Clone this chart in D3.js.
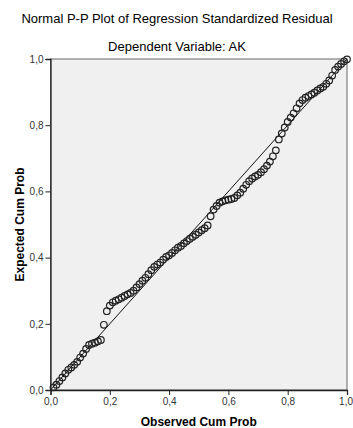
<!DOCTYPE html>
<html>
<head>
<meta charset="utf-8">
<script src="https://cdn.jsdelivr.net/npm/d3@7"></script>
<style>
  body { margin: 0; background: #fff; }
  svg { display: block; font-family: "Liberation Sans", Arial, sans-serif; }
</style>
</head>
<body>
<div id="chart"></div>
<script>
// observed cumulative probability (x) and expected cumulative probability (y)
const observed = [
  0.01, 0.02, 0.03, 0.04, 0.05, 0.06, 0.07, 0.08, 0.09, 0.10,
  0.11, 0.12, 0.13, 0.14, 0.15, 0.16, 0.17, 0.18, 0.19, 0.20,
  0.21, 0.22, 0.23, 0.24, 0.25, 0.26, 0.27, 0.28, 0.29, 0.30,
  0.31, 0.32, 0.33, 0.34, 0.35, 0.36, 0.37, 0.38, 0.39, 0.40,
  0.41, 0.42, 0.43, 0.44, 0.45, 0.46, 0.47, 0.48, 0.49, 0.50,
  0.51, 0.52, 0.53, 0.54, 0.55, 0.56, 0.57, 0.58, 0.59, 0.60,
  0.61, 0.62, 0.63, 0.64, 0.65, 0.66, 0.67, 0.68, 0.69, 0.70,
  0.71, 0.72, 0.73, 0.74, 0.75, 0.76, 0.77, 0.78, 0.79, 0.80,
  0.81, 0.82, 0.83, 0.84, 0.85, 0.86, 0.87, 0.88, 0.89, 0.90,
  0.91, 0.92, 0.93, 0.94, 0.95, 0.96, 0.97, 0.98, 0.99, 1.00
];
const expected = [
  0.008, 0.016, 0.027, 0.038, 0.050, 0.061, 0.068, 0.076, 0.085, 0.098,
  0.110, 0.124, 0.136, 0.140, 0.143, 0.147, 0.151, 0.197, 0.238, 0.255,
  0.265, 0.270, 0.274, 0.279, 0.284, 0.289, 0.293, 0.300, 0.310, 0.320,
  0.330, 0.339, 0.350, 0.362, 0.372, 0.379, 0.385, 0.394, 0.402, 0.407,
  0.414, 0.422, 0.430, 0.435, 0.443, 0.450, 0.457, 0.463, 0.469, 0.476,
  0.483, 0.489, 0.497, 0.525, 0.545, 0.556, 0.566, 0.570, 0.573, 0.575,
  0.577, 0.580, 0.588, 0.596, 0.608, 0.620, 0.631, 0.639, 0.645, 0.650,
  0.658, 0.667, 0.678, 0.690, 0.706, 0.724, 0.757, 0.775, 0.793, 0.810,
  0.823, 0.836, 0.851, 0.866, 0.876, 0.883, 0.888, 0.893, 0.898, 0.905,
  0.911, 0.916, 0.925, 0.935, 0.950, 0.967, 0.977, 0.985, 0.993, 0.999
];
const tickValues = [0, 0.2, 0.4, 0.6, 0.8, 1.0];
const tickLabels = ["0,0", "0,2", "0,4", "0,6", "0,8", "1,0"];

const width = 353, height = 428;
const plotLeft = 50.5, plotRight = 347, plotTop = 59, plotBottom = 390;

const svg = d3.select("#chart").append("svg")
  .attr("width", width)
  .attr("height", height);

const x = d3.scaleLinear().domain([0, 1]).range([plotLeft, plotRight]);
const y = d3.scaleLinear().domain([0, 1]).range([plotBottom, plotTop]);

// titles
svg.append("text")
  .attr("x", 177).attr("y", 23)
  .attr("text-anchor", "middle")
  .style("font-size", "13px")
  .text("Normal P-P Plot of Regression Standardized Residual");
svg.append("text")
  .attr("x", 177).attr("y", 51)
  .attr("text-anchor", "middle")
  .style("font-size", "13px")
  .text("Dependent Variable: AK");

// plot background and frame
svg.append("rect")
  .attr("x", plotLeft).attr("y", plotTop)
  .attr("width", plotRight - plotLeft).attr("height", plotBottom - plotTop)
  .attr("fill", "#f0f0f0")
  .attr("stroke", "#666")
  .attr("stroke-width", 1);

// reference line
svg.append("line")
  .attr("x1", x(0)).attr("y1", y(0))
  .attr("x2", x(1)).attr("y2", y(1))
  .attr("stroke", "#111")
  .attr("stroke-width", 1);

// points
svg.append("g")
  .selectAll("circle")
  .data(observed.map((d, i) => [d, expected[i]]))
  .enter()
  .append("circle")
  .attr("cx", d => x(d[0]))
  .attr("cy", d => y(d[1]))
  .attr("r", 3.3)
  .attr("fill", "none")
  .attr("stroke", "#222")
  .attr("stroke-width", 1.2);

// axes
const fmt = d => tickLabels[tickValues.indexOf(d)];
const xAxis = svg.append("g")
  .attr("transform", "translate(0," + plotBottom + ")")
  .call(d3.axisBottom(x).tickValues(tickValues).tickFormat(fmt).tickSize(5).tickPadding(3));
const yAxis = svg.append("g")
  .attr("transform", "translate(" + plotLeft + ",0)")
  .call(d3.axisLeft(y).tickValues(tickValues).tickFormat(fmt).tickSize(5).tickPadding(2));
[xAxis, yAxis].forEach(g => {
  g.select(".domain").attr("stroke", "#222").attr("stroke-width", 1.3);
  g.selectAll(".tick line").attr("stroke", "#222");
  g.selectAll("text")
    .style("font-size", "10px")
    .attr("fill", "#333");
});
// keep the last x label inside the picture
xAxis.selectAll(".tick text")
  .filter(d => d === 1)
  .attr("text-anchor", "end")
  .attr("x", 5.5);

// axis titles
svg.append("text")
  .attr("x", (plotLeft + plotRight) / 2).attr("y", 426)
  .attr("text-anchor", "middle")
  .style("font-size", "12px")
  .style("font-weight", "bold")
  .text("Observed Cum Prob");
svg.append("text")
  .attr("transform", "translate(24," + ((plotTop + plotBottom) / 2) + ") rotate(-90)")
  .attr("text-anchor", "middle")
  .style("font-size", "12px")
  .style("font-weight", "bold")
  .text("Expected Cum Prob");
</script>
</body>
</html>
